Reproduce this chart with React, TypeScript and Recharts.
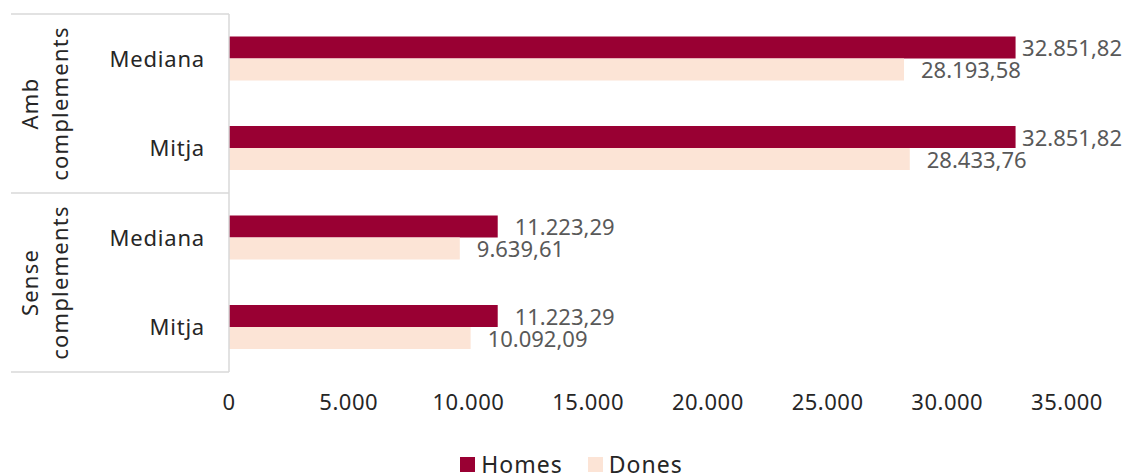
import React from 'react';
import { BarChart, Bar, XAxis, YAxis, Legend, LabelList } from 'recharts';

const groups = ['Amb complements', 'Amb complements', 'Sense complements', 'Sense complements'];
const groupLines = [['Amb', 'complements'], ['Sense', 'complements']];
const measures = ['Mediana', 'Mitja', 'Mediana', 'Mitja'];
const homes = [32851.82, 32851.82, 11223.29, 11223.29];
const dones = [28193.58, 28433.76, 9639.61, 10092.09];
const xTicks = [0, 5000, 10000, 15000, 20000, 25000, 30000, 35000];

const data = measures.map((m, i) => ({
  key: `${groups[i]}|${m}|${i}`,
  group: groups[i],
  measure: m,
  Homes: homes[i],
  Dones: dones[i],
}));

const W = 1127;
const H = 474;
const M_TOP = 14;
const M_LEFT = 11;
const M_RIGHT = 60;
const Y_W = 218;
const X_H = 62;
const LEGEND_H = 40;
const PLOT_BOTTOM = H - LEGEND_H - X_H;
const BAND = (PLOT_BOTTOM - M_TOP) / measures.length;
const AXIS_X = M_LEFT + Y_W;
const FONT = '"Noto Sans", sans-serif';
const LINE = '#d9d9d9';
const TEXT = '#262626';
const HOMES_C = '#990033';
const DONES_C = '#FCE4D6';

const fmtNum = (v: number, dec: number) => {
  const fixed = v.toFixed(dec);
  const [int, frac] = fixed.split('.');
  const intF = int.replace(/\B(?=(\d{3})+(?!\d))/g, '.');
  return frac ? `${intF},${frac}` : intF;
};

const YTick = (props: any) => {
  const { x, y, index } = props;
  const measure = measures[index] ?? '';
  const els: React.ReactNode[] = [];
  els.push(
    <text key="m" x={x} y={y} dy="0.36em" textAnchor="end" fontSize={22} fill={TEXT} fontFamily={FONT} letterSpacing={0.8}>
      {measure}
    </text>
  );
  const top = y - BAND / 2;
  const bottom = y + BAND / 2;
  const isGroupStart = index === 0 || groups[index] !== groups[index - 1];
  if (isGroupStart) {
    els.push(<line key="lt" x1={M_LEFT} x2={AXIS_X} y1={top} y2={top} stroke={LINE} strokeWidth={1.5} />);
    const gi = groupLines.findIndex((g) => g.join(' ') === groups[index]);
    const lines = groupLines[gi] || [groups[index]];
    const cx = 45;
    const cy = y + BAND / 2;
    els.push(
      <text key="g" x={cx} y={cy} transform={`rotate(-90 ${cx} ${cy})`} textAnchor="middle" fontSize={22} fill={TEXT} fontFamily={FONT} letterSpacing={1.2}>
        <tspan x={cx} y={cy - 7.5}>{lines[0]}</tspan>
        <tspan x={cx} y={cy + 23}>{lines[1]}</tspan>
      </text>
    );
  }
  if (index === measures.length - 1) {
    els.push(<line key="lb" x1={M_LEFT} x2={AXIS_X} y1={bottom} y2={bottom} stroke={LINE} strokeWidth={1.5} />);
  }
  return <g>{els}</g>;
};

const ValueLabel = (props: any) => {
  const { x, y, width, height, value } = props;
  const end = x + width;
  const txt = fmtNum(Number(value), 2);
  const estW = txt.length * 11.1;
  const limit = W - 5;
  const gap = 17;
  const overflow = end + gap + estW > limit;
  return (
    <text
      x={overflow ? limit : end + gap}
      y={y + height / 2 + 1}
      dy="0.36em"
      textAnchor={overflow ? 'end' : 'start'}
      fontSize={22}
      fill="#595959"
      fontFamily={FONT}
    >
      {txt}
    </text>
  );
};

const LegendContent = () => (
  <div style={{ width: W, height: LEGEND_H, display: 'flex', justifyContent: 'center', alignItems: 'flex-start', paddingTop: 19, paddingLeft: 16, boxSizing: 'border-box', fontFamily: FONT, fontSize: 23, color: TEXT }}>
    {[['Homes', HOMES_C], ['Dones', DONES_C]].map(([n, c], i) => (
      <div key={n} style={{ display: 'flex', alignItems: 'center', marginRight: i === 0 ? 25 : 0, lineHeight: '23px', letterSpacing: 1 }}>
        <span style={{ display: 'inline-block', width: 15, height: 15, background: c, marginRight: 6 }} />
        <span>{n}</span>
      </div>
    ))}
  </div>
);

export default function App() {
  return (
    <div style={{ position: 'absolute', left: 0, top: 0, width: W, height: H, background: '#fff', overflow: 'hidden' }}>
      <BarChart
        width={W}
        height={H}
        data={data}
        layout="vertical"
        margin={{ top: M_TOP, right: M_RIGHT, left: M_LEFT, bottom: 0 }}
        barCategoryGap="25%"
        barGap={0}
      >
        <XAxis
          type="number"
          domain={[0, 35000]}
          ticks={xTicks}
          height={X_H}
          axisLine={false}
          tickLine={false}
          tickSize={0}
          tickMargin={22}
          interval={0}
          tickFormatter={(v: number) => fmtNum(v, 0)}
          tick={{ fontSize: 22, fill: TEXT, fontFamily: FONT, letterSpacing: 0.5 }}
        />
        <YAxis
          type="category"
          dataKey="key"
          width={Y_W}
          axisLine={{ stroke: LINE, strokeWidth: 1.5 }}
          tickLine={false}
          tickSize={0}
          tickMargin={24}
          interval={0}
          tick={<YTick />}
        />
        <Legend verticalAlign="bottom" height={LEGEND_H} wrapperStyle={{ left: 0, width: W }} content={<LegendContent />} />
        <Bar dataKey="Homes" fill={HOMES_C} isAnimationActive={false}>
          <LabelList dataKey="Homes" content={<ValueLabel />} />
        </Bar>
        <Bar dataKey="Dones" fill={DONES_C} isAnimationActive={false}>
          <LabelList dataKey="Dones" content={<ValueLabel />} />
        </Bar>
      </BarChart>
    </div>
  );
}
